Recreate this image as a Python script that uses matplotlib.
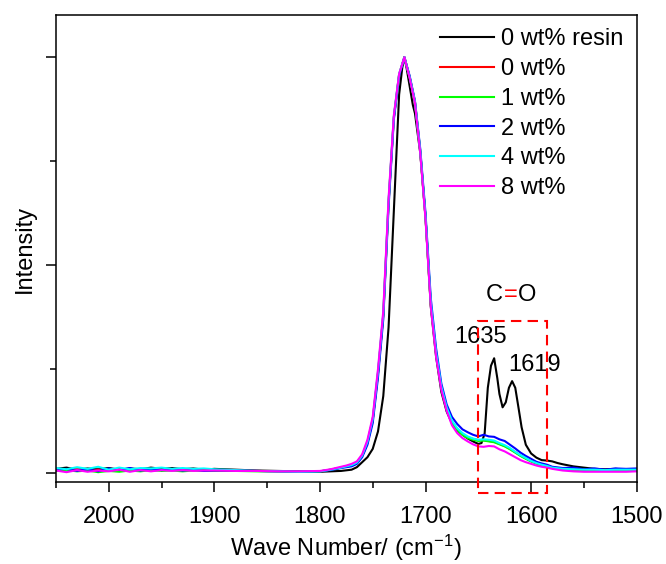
import matplotlib
matplotlib.use("Agg")
import matplotlib.pyplot as plt
from matplotlib.patches import Rectangle
from matplotlib.ticker import MultipleLocator

plt.rcParams['font.family'] = ['Liberation Sans', 'DejaVu Sans']
plt.rcParams['mathtext.fontset'] = 'custom'
plt.rcParams['mathtext.rm'] = 'Liberation Sans'
plt.rcParams['mathtext.default'] = 'regular'

# wave numbers (cm-1) shared by the composite spectra
wn = [2050, 2040, 2030, 2020, 2010, 2000, 1990, 1980, 1970, 1960, 1950, 1940, 1930, 1920, 1910, 1900,
      1880, 1860, 1840, 1820, 1800, 1790, 1780,
      1775, 1770, 1765, 1760, 1755, 1750, 1745, 1740, 1735, 1730, 1725, 1720,
      1715, 1710, 1705, 1700, 1695, 1690, 1685, 1680, 1675, 1670, 1665, 1660, 1655, 1650,
      1645, 1640, 1635, 1630, 1625, 1620, 1615, 1610, 1605, 1600, 1595, 1590, 1585, 1580,
      1570, 1560, 1550, 1540, 1530, 1520, 1510, 1500]

wt0 = [0.008, 0.006, 0.009, 0.005, 0.008, 0.006, 0.010, 0.005, 0.009, 0.006, 0.008, 0.007, 0.009, 0.007, 0.008, 0.006,
       0.006, 0.005, 0.004, 0.003, 0.004, 0.008, 0.013,
       0.016, 0.019, 0.025, 0.041, 0.073, 0.128, 0.24, 0.38, 0.65, 0.855, 0.958, 1.0,
       0.952, 0.892, 0.774, 0.615, 0.405, 0.287, 0.205, 0.155, 0.123, 0.105, 0.094, 0.086, 0.082, 0.079,
       0.079, 0.077, 0.075, 0.070, 0.065, 0.058, 0.050, 0.042, 0.035, 0.028, 0.023, 0.019, 0.016, 0.012,
       0.009, 0.008, 0.007, 0.007, 0.006, 0.007, 0.007, 0.007]

wt1 = [0.005, 0.007, 0.004, 0.006, 0.002, 0.005, 0.003, 0.006, 0.004, 0.007, 0.005, 0.006, 0.004, 0.006, 0.005, 0.005,
       0.005, 0.004, 0.004, 0.003, 0.004, 0.008, 0.013,
       0.016, 0.019, 0.025, 0.041, 0.073, 0.128, 0.24, 0.38, 0.65, 0.855, 0.958, 1.0,
       0.952, 0.892, 0.774, 0.615, 0.405, 0.287, 0.204, 0.154, 0.122, 0.104, 0.092, 0.084, 0.080, 0.077,
       0.078, 0.076, 0.074, 0.069, 0.064, 0.057, 0.049, 0.041, 0.034, 0.028, 0.023, 0.019, 0.016, 0.012,
       0.009, 0.008, 0.007, 0.007, 0.006, 0.007, 0.007, 0.007]

wt2 = [0.008, 0.010, 0.005, 0.009, 0.004, 0.011, 0.007, 0.012, 0.006, 0.010, 0.007, 0.009, 0.006, 0.008, 0.005, 0.006,
       0.006, 0.005, 0.004, 0.003, 0.004, 0.007, 0.012,
       0.014, 0.016, 0.022, 0.038, 0.068, 0.12, 0.23, 0.37, 0.64, 0.85, 0.955, 1.0,
       0.955, 0.895, 0.78, 0.625, 0.42, 0.30, 0.215, 0.165, 0.135, 0.118, 0.105, 0.098, 0.092, 0.088,
       0.092, 0.088, 0.087, 0.081, 0.077, 0.068, 0.059, 0.049, 0.041, 0.034, 0.027, 0.023, 0.020, 0.015,
       0.012, 0.013, 0.009, 0.011, 0.008, 0.011, 0.010, 0.011]

wt4 = [0.012, 0.009, 0.014, 0.010, 0.015, 0.008, 0.013, 0.009, 0.012, 0.011, 0.013, 0.010, 0.012, 0.010, 0.011, 0.009,
       0.007, 0.005, 0.004, 0.003, 0.004, 0.008, 0.013,
       0.016, 0.019, 0.025, 0.042, 0.075, 0.13, 0.245, 0.385, 0.655, 0.858, 0.96, 1.0,
       0.952, 0.893, 0.775, 0.617, 0.41, 0.29, 0.208, 0.158, 0.126, 0.108, 0.096, 0.088, 0.083, 0.080,
       0.081, 0.080, 0.078, 0.072, 0.067, 0.060, 0.051, 0.043, 0.036, 0.029, 0.024, 0.020, 0.017, 0.013,
       0.010, 0.009, 0.008, 0.008, 0.007, 0.008, 0.008, 0.008]

wt8 = [0.006, 0.002, 0.007, 0.003, 0.006, 0.004, 0.008, 0.003, 0.007, 0.004, 0.007, 0.005, 0.007, 0.005, 0.006, 0.006,
       0.005, 0.005, 0.004, 0.004, 0.005, 0.009, 0.015,
       0.018, 0.022, 0.028, 0.045, 0.08, 0.135, 0.25, 0.39, 0.66, 0.86, 0.96, 1.0,
       0.95, 0.89, 0.77, 0.61, 0.40, 0.28, 0.20, 0.15, 0.115, 0.096, 0.084, 0.076, 0.069, 0.064,
       0.063, 0.065, 0.064, 0.057, 0.052, 0.045, 0.038, 0.031, 0.026, 0.022, 0.018, 0.015, 0.013, 0.010,
       0.006, 0.004, 0.003, 0.003, 0.003, 0.003, 0.003, 0.004]

# neat resin spectrum has its own, finer grid around the C=O doublet
wn_resin = [2050, 2040, 2030, 2020, 2010, 2000, 1990, 1980, 1970, 1960, 1950, 1940, 1930, 1920, 1910, 1900,
            1880, 1860, 1840, 1820, 1800, 1790, 1780, 1770, 1765, 1760, 1755, 1750, 1745, 1740, 1735, 1730,
            1725, 1722, 1720, 1718, 1715, 1712, 1710, 1705, 1700, 1695, 1690, 1685, 1680, 1675, 1670, 1665,
            1660, 1655, 1650, 1647, 1644, 1641, 1638, 1635, 1632, 1630, 1627, 1624, 1621, 1618, 1615, 1612,
            1609, 1605, 1600, 1595, 1590, 1585, 1580, 1575, 1570, 1560, 1550, 1540, 1530, 1520, 1510, 1500]
resin = [0.010, 0.013, 0.008, 0.011, 0.009, 0.012, 0.008, 0.011, 0.009, 0.013, 0.010, 0.012, 0.009, 0.011, 0.008, 0.010,
         0.008, 0.006, 0.005, 0.004, 0.003, 0.004, 0.005, 0.008, 0.014, 0.026, 0.038, 0.058, 0.10, 0.185, 0.35, 0.63,
         0.91, 0.975, 1.0, 0.975, 0.93, 0.885, 0.865, 0.77, 0.615, 0.40, 0.28, 0.195, 0.148, 0.12, 0.103, 0.092,
         0.083, 0.076, 0.070, 0.072, 0.095, 0.205, 0.258, 0.276, 0.228, 0.19, 0.158, 0.170, 0.205, 0.221, 0.205, 0.158,
         0.11, 0.068, 0.047, 0.037, 0.031, 0.030, 0.028, 0.024, 0.021, 0.016, 0.013, 0.010, 0.009, 0.010, 0.008, 0.009]

series = [
    (wn_resin, resin, '#000000', '0 wt% resin'),
    (wn, wt0, '#ff0000', '0 wt%'),
    (wn, wt1, '#00ff00', '1 wt%'),
    (wn, wt2, '#0000ff', '2 wt%'),
    (wn, wt4, '#00ffff', '4 wt%'),
    (wn, wt8, '#ff00ff', '8 wt%'),
]

fig = plt.figure(figsize=(6.66, 5.64), dpi=100)
ax = fig.add_axes([0.084, 0.1454, 0.872, 0.8276])

for x, y, c, lab in series:
    ax.plot(x, y, color=c, lw=1.5, label=lab)

ax.set_xlim(2050, 1500)
ax.set_ylim(-0.0216, 1.101)
ax.xaxis.set_major_locator(MultipleLocator(100))
ax.xaxis.set_minor_locator(MultipleLocator(50))
ax.yaxis.set_major_locator(MultipleLocator(0.5))
ax.yaxis.set_minor_locator(MultipleLocator(0.25))
ax.set_yticklabels([])
ax.tick_params(which='both', direction='out', width=1.1, top=False, right=False)
ax.tick_params(which='major', length=7)
ax.tick_params(which='minor', length=4)
ax.tick_params(axis='x', labelsize=17, pad=10)
for s in ax.spines.values():
    s.set_linewidth(1.1)

ax.set_xlabel('Wave Number/ (cm$^{-1}$)', fontsize=17, labelpad=4)
ax.set_ylabel('Intensity', fontsize=17, labelpad=4)

# C=O region marker
box = Rectangle((1650, -0.048), -65, 0.413, fill=False, edgecolor='#ff0000',
                lw=1.5, linestyle=(0, (5, 3)), clip_on=False, zorder=5)
ax.add_patch(box)
ax.text(1627, 0.428, 'C', fontsize=17, ha='right', va='center')
ax.text(1619.7, 0.428, '=', fontsize=17, ha='center', va='center', color='#ff0000')
ax.text(1612.6, 0.428, 'O', fontsize=17, ha='left', va='center')
ax.text(1648.2, 0.328, '1635', fontsize=17, ha='center', va='center')
ax.text(1597, 0.26, '1619', fontsize=17, ha='center', va='center')

ax.legend(loc='upper right', frameon=False, fontsize=17, handlelength=2.3,
          handletextpad=0.3, labelspacing=0.33, borderaxespad=0.15)

fig.savefig('out.png', dpi=100)
